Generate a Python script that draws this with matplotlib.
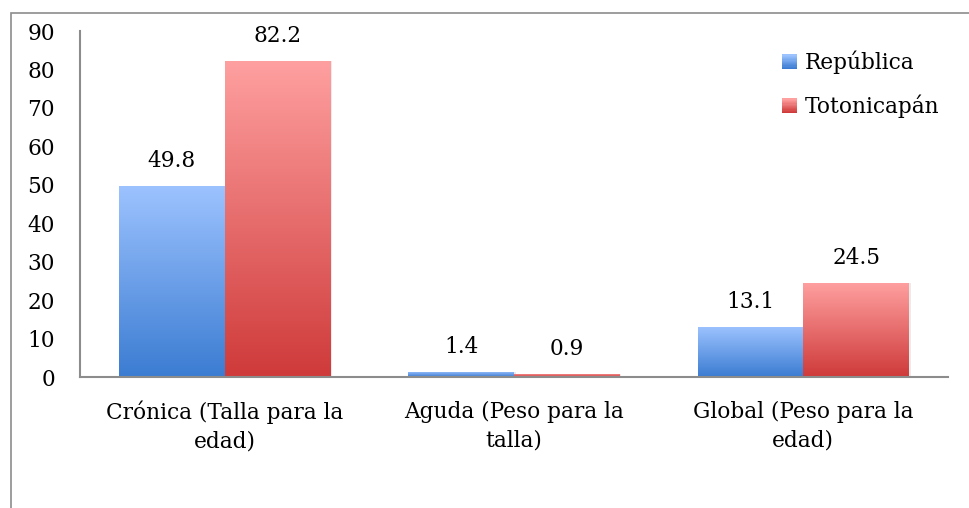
import numpy as np
import matplotlib
matplotlib.use("Agg")
import matplotlib.pyplot as plt
from matplotlib.colors import LinearSegmentedColormap
from matplotlib.legend_handler import HandlerBase
from matplotlib.patches import Rectangle

# datos
categorias = ["Crónica (Talla para la\nedad)", "Aguda (Peso para la\ntalla)", "Global (Peso para la\nedad)"]
republica = [49.8, 1.4, 13.1]
totonicapan = [82.2, 0.9, 24.5]
series = ["República", "Totonicapán"]
yticks = [0, 10, 20, 30, 40, 50, 60, 70, 80, 90]

# colores degradados (arriba claro, abajo oscuro)
grad_azul = ("#9dc3ff", "#3b7cd2")
grad_rojo = ("#ffa0a0", "#cf3a3a")

plt.rcParams['font.family'] = ['DejaVu Serif']
FS = 15.6

fig = plt.figure(figsize=(9.69, 5.08), dpi=100)
ax = fig.add_axes([80 / 969, 1 - 377 / 508, 868 / 969, 346 / 508])

# marco exterior
fig.patches.append(Rectangle((11 / 969, -0.1), 1.2, 1 - 13 / 508 + 0.1, transform=fig.transFigure,
                             fill=False, edgecolor="#8c8c8c", linewidth=1.2))

x = np.arange(len(categorias))
w = 0.365


def barras_degradado(xs, vals, colores):
    cmap = LinearSegmentedColormap.from_list("g", [colores[1], colores[0]])
    grad = np.linspace(0, 1, 256).reshape(-1, 1)
    bars = ax.bar(xs, vals, w, color=colores[1], linewidth=0)
    for b in bars:
        x0, h = b.get_x(), b.get_height()
        # sombra ligera
        ax.add_patch(Rectangle((x0 + 0.006, -0.35), w, h + 0.35, facecolor="#000000",
                               alpha=0.08, linewidth=0, zorder=1))
        im = ax.imshow(grad, cmap=cmap, aspect="auto", origin="lower",
                       extent=[x0, x0 + w, 0, h], zorder=2)
        im.set_clip_path(b)
        b.set_zorder(2)
    return bars


barras_degradado(x - w / 2, republica, grad_azul)
barras_degradado(x + w / 2, totonicapan, grad_rojo)

for xi, v in zip(x - w / 2, republica):
    ax.text(xi, v + 3.6, f"{v}", ha="center", va="bottom", fontsize=FS)
for xi, v in zip(x + w / 2, totonicapan):
    ax.text(xi, v + 3.6, f"{v}", ha="center", va="bottom", fontsize=FS)

ax.set_xlim(-0.5, 2.5)
ax.set_ylim(0, 90)
ax.set_yticks(yticks)
ax.set_xticks(x)
ax.set_xticklabels(categorias, fontsize=FS, linespacing=1.4)
ax.tick_params(axis="y", length=0, pad=18, labelsize=FS)
ax.tick_params(axis="x", length=0, pad=17)
for s in ["top", "right"]:
    ax.spines[s].set_visible(False)
for s in ["left", "bottom"]:
    ax.spines[s].set_color("#8c8c8c")
    ax.spines[s].set_linewidth(1.5)
ax.spines["bottom"].set_zorder(3)


class HandlerGrad(HandlerBase):
    def __init__(self, colores):
        super().__init__()
        self.colores = colores

    def create_artists(self, legend, orig_handle, xdescent, ydescent, width, height, fontsize, trans):
        cmap = LinearSegmentedColormap.from_list("g", [self.colores[1], self.colores[0]])
        n = 12
        s = height * 0.95
        x0 = width - s
        arts = []
        for i in range(n):
            arts.append(Rectangle((x0, -ydescent + s * i / n), s, s / n + 0.3,
                                  facecolor=cmap(i / (n - 1)), linewidth=0, transform=trans))
        return arts


h1 = Rectangle((0, 0), 1, 1)
h2 = Rectangle((0, 0), 1, 1)
ax.legend([h1, h2], series, loc="upper right", bbox_to_anchor=(1.012, 1.0), frameon=False,
          fontsize=FS, handler_map={h1: HandlerGrad(grad_azul), h2: HandlerGrad(grad_rojo)},
          handlelength=0.7, handletextpad=0.35, labelspacing=0.95)

fig.savefig("out.png", dpi=100)
